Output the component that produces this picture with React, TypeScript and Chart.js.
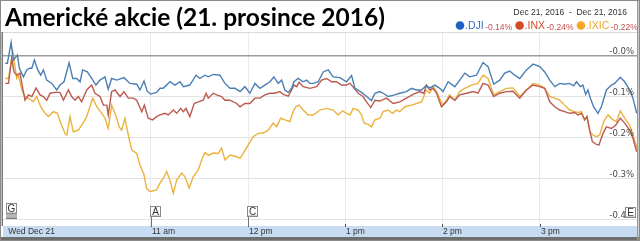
import React, { useEffect, useRef } from 'react';
import { Chart, registerables } from 'chart.js';

Chart.register(...registerables);

// minutes after 9:30 (open) and % change
const djiTime = [0,1.3,3.6,5,7.5,8.7,11.2,13.3,14.9,16.4,18,20.1,21.9,23.5,25.6,28.7,31.8,33.8,36.3,39.4,41.7,44.1,46.2,47.8,50.7,53.4,56,58.5,61.6,63.6,65.7,68.8,73.3,77,81.2,83.2,85.7,87.7,89.8,93.5,95.6,97.6,101.7,104.8,107.9,110,114,117.8,120.2,123.3,125.4,128.5,132.6,135.7,138.8,141.9,145,148,151.1,154.2,157.3,160.4,163.5,165.9,168.6,170.7,172.7,174.8,176.9,178.3,180.9,184,186.1,188.2,190.2,193.3,196.4,199.5,202.5,206.7,210.8,213.9,216,220.1,223.2,226.2,228.3,231.4,233.4,236.5,240.6,243.7,247.8,250.9,254,257.1,259.8,262.2,265.3,268.4,270.4,273.5,277.7,280.7,283.8,286.9,291,295.1,298.2,301.7,305.4,308.5,311.6,314.7,317.8,321.9,326,330.1,333.2,336.3,339.4,342.5,345.5,348.6,351.1,352.8,355.2,356.8,358.5,359.9,361.4,363.4,366.1,368.2,371.3,374.4,376.4,379.9,382.6,385.7,387.7,390];
const djiValue = [-0.019,-0.019,0.032,-0.011,0.001,-0.031,-0.052,-0.035,-0.031,-0.031,-0.011,-0.035,-0.048,-0.035,-0.06,-0.068,-0.084,-0.072,-0.064,-0.018,-0.056,-0.056,-0.064,-0.035,-0.04,-0.056,-0.072,-0.06,-0.052,-0.082,-0.056,-0.06,-0.054,-0.068,-0.07,-0.084,-0.062,-0.087,-0.094,-0.09,-0.08,-0.08,-0.064,-0.072,-0.064,-0.076,-0.072,-0.048,-0.056,-0.048,-0.052,-0.046,-0.048,-0.068,-0.08,-0.08,-0.088,-0.076,-0.092,-0.068,-0.08,-0.072,-0.064,-0.052,-0.068,-0.06,-0.084,-0.09,-0.08,-0.064,-0.056,-0.064,-0.06,-0.068,-0.068,-0.064,-0.04,-0.035,-0.052,-0.054,-0.064,-0.049,-0.08,-0.09,-0.1,-0.11,-0.092,-0.088,-0.092,-0.1,-0.096,-0.092,-0.088,-0.08,-0.084,-0.084,-0.074,-0.079,-0.072,-0.08,-0.088,-0.064,-0.076,-0.06,-0.043,-0.052,-0.048,-0.017,-0.027,-0.07,-0.06,-0.043,-0.038,-0.048,-0.056,-0.035,-0.021,-0.027,-0.04,-0.06,-0.076,-0.068,-0.07,-0.068,-0.074,-0.064,-0.076,-0.072,-0.095,-0.084,-0.104,-0.125,-0.141,-0.125,-0.084,-0.072,-0.068,-0.053,-0.064,-0.084,-0.104,-0.141];

const inxTime = [0,2,4,5.4,7.1,9.1,10.8,12.2,14.3,16.4,19,21.5,23.5,25.6,27.7,30.7,33.8,35.9,39,41,43.1,45.1,47.2,50.3,53.4,55.4,58.5,60.6,62.7,63.6,65.7,67.8,70.9,73.3,76,79.1,81.2,84.3,85.9,88.3,91,93.5,95.6,98.6,100.7,103.8,105.9,108.3,110,111.6,114,116.7,119.2,122.3,124,125.4,128.5,130.6,133.6,135.7,138.8,142.9,145,148,151.1,154.2,157.3,160.4,163.5,166.5,169.6,171.7,174.8,176.9,178.3,180,181.5,184,188.2,192.3,195.4,198.5,201.5,204.6,207.7,210.8,212.9,215.3,218,221,223.1,225.8,228.3,231.4,235.5,239.6,243.7,247.8,251.9,256,258.5,260.2,262.2,264.3,266.4,269.4,272.5,274.5,277.7,280.7,284.9,289,292,295.1,298.2,301.7,305.4,309.6,313.6,317.8,321.9,326,330.1,333.2,336.3,339.4,342.5,345.5,348.6,351.7,353.8,355.9,357.9,359.3,361,362.6,365.1,366.7,369.2,371.3,374.4,377,379.9,382.6,385.7,387.7,390];
const inxValue = [-0.068,-0.068,-0.007,-0.04,-0.048,-0.043,-0.08,-0.109,-0.096,-0.1,-0.079,-0.096,-0.1,-0.109,-0.092,-0.09,-0.09,-0.109,-0.084,-0.1,-0.109,-0.1,-0.113,-0.084,-0.072,-0.092,-0.1,-0.121,-0.121,-0.145,-0.088,-0.084,-0.1,-0.088,-0.104,-0.104,-0.109,-0.137,-0.121,-0.153,-0.157,-0.149,-0.145,-0.141,-0.145,-0.133,-0.141,-0.129,-0.137,-0.129,-0.149,-0.117,-0.113,-0.109,-0.092,-0.104,-0.092,-0.096,-0.1,-0.109,-0.109,-0.117,-0.125,-0.117,-0.117,-0.104,-0.104,-0.096,-0.092,-0.092,-0.088,-0.095,-0.099,-0.084,-0.072,-0.076,-0.065,-0.076,-0.08,-0.076,-0.06,-0.056,-0.064,-0.064,-0.072,-0.072,-0.068,-0.079,-0.092,-0.1,-0.113,-0.127,-0.109,-0.111,-0.104,-0.117,-0.113,-0.104,-0.095,-0.088,-0.092,-0.072,-0.084,-0.08,-0.092,-0.125,-0.113,-0.1,-0.109,-0.096,-0.092,-0.088,-0.092,-0.068,-0.072,-0.1,-0.092,-0.088,-0.087,-0.104,-0.084,-0.072,-0.076,-0.08,-0.113,-0.125,-0.133,-0.137,-0.141,-0.139,-0.145,-0.141,-0.157,-0.149,-0.182,-0.21,-0.217,-0.218,-0.19,-0.174,-0.178,-0.17,-0.153,-0.165,-0.182,-0.202,-0.235];

const ixicTime = [0,2,4.6,7.1,8.1,10.2,12.2,14.3,17.3,19.4,21.9,24.6,26.6,29.7,32.2,34.3,36.9,38,40,42,45.1,47.2,49.9,52.3,54,56.5,59.6,61.6,63.6,65.7,67.8,70.4,71.9,73.9,76,78.1,81.2,83.2,85.7,87.3,89.4,91.4,93.5,95.6,97.6,99.7,101.7,103.8,105.9,109,111,113.6,116.1,119.2,121.3,123.3,125.4,128.5,131.5,133.6,135.7,138.8,142.9,145,147,150.1,153.1,156.2,159.3,162.4,165.5,167.6,170.1,172.7,175.8,177.8,179.5,181.5,184,187.1,190.2,194.3,198.5,202.5,205.6,208.3,210.8,212.9,214.9,218,220.1,221.7,224.1,226.2,228.3,231.4,233.4,236.5,239.2,241.7,243.7,246.8,250.9,254,257.1,258.5,259.8,262.2,264.3,266.4,270.1,272.5,274.5,277.7,280.7,283.8,288,292,295.1,298.2,301.7,305.4,309.6,313.6,317.8,321.9,326,330.1,333.2,336.3,339.4,342.5,345.5,348.6,351.7,353.8,355.9,357.9,359.3,361,363,365.1,367.2,369.6,372.3,375.4,377.5,379.9,382.6,385.7,387.7,390];
const ixicValue = [-0.056,-0.056,0.01,-0.056,-0.048,-0.084,-0.1,-0.104,-0.113,-0.1,-0.125,-0.141,-0.149,-0.137,-0.141,-0.165,-0.19,-0.194,-0.149,-0.186,-0.182,-0.17,-0.153,-0.125,-0.104,-0.125,-0.141,-0.153,-0.178,-0.121,-0.141,-0.174,-0.182,-0.153,-0.194,-0.23,-0.239,-0.267,-0.291,-0.324,-0.332,-0.33,-0.328,-0.311,-0.3,-0.283,-0.304,-0.336,-0.304,-0.287,-0.296,-0.324,-0.296,-0.279,-0.255,-0.237,-0.243,-0.238,-0.239,-0.226,-0.255,-0.243,-0.247,-0.251,-0.239,-0.218,-0.198,-0.19,-0.189,-0.182,-0.165,-0.174,-0.153,-0.157,-0.161,-0.137,-0.125,-0.121,-0.133,-0.145,-0.145,-0.133,-0.129,-0.133,-0.145,-0.135,-0.141,-0.145,-0.129,-0.133,-0.145,-0.165,-0.168,-0.174,-0.157,-0.153,-0.137,-0.133,-0.141,-0.133,-0.137,-0.125,-0.121,-0.117,-0.113,-0.1,-0.084,-0.092,-0.076,-0.088,-0.121,-0.109,-0.096,-0.109,-0.088,-0.08,-0.072,-0.068,-0.048,-0.056,-0.096,-0.088,-0.08,-0.079,-0.1,-0.084,-0.068,-0.072,-0.08,-0.1,-0.104,-0.109,-0.121,-0.133,-0.137,-0.139,-0.137,-0.157,-0.149,-0.186,-0.194,-0.198,-0.194,-0.161,-0.145,-0.157,-0.161,-0.135,-0.153,-0.17,-0.194,-0.225];

const seriesNames = ['.DJI', '.INX', '.IXIC'];
const seriesChanges = ['-0.14%', '-0.24%', '-0.22%'];
const hourTicks = [90, 150, 210, 270, 330];
const hourLabels = ['11 am', '12 pm', '1 pm', '2 pm', '3 pm'];
const startLabel = 'Wed Dec 21';
const yTicks = [0, -0.1, -0.2, -0.3, -0.4];
const yTickLabels = ['-0.0%', '-0.1%', '-0.2%', '-0.3%', '-0.4%'];
const flagLabels = ['G', 'A', 'C', 'E'];
const flagTimes = [0, 90, 150, 390];
const titleText = 'Americké akcie (21. prosince 2016)';
const rangeText = 'Dec 21, 2016  -  Dec 21, 2016';

const lineColors = ['#4a7fb3', '#bd5a4f', '#eab23f'];
const dotColors = ['#1f62c4', '#d44a26', '#f4a825'];
const nameColors = ['#2e6fc2', '#cf4a2a', '#eea62a'];

const decorPlugin = {
  id: 'decor',
  beforeDraw(chart: any) {
    const { ctx, width, height } = chart;
    ctx.save();
    ctx.fillStyle = '#ffffff';
    ctx.fillRect(0, 0, width, height);
    ctx.restore();
  },
  afterDatasetsDraw(chart: any) {
    const { ctx, chartArea: a, scales } = chart;
    const xs = scales.x;
    const ys = scales.y;
    ctx.save();
    // header separator
    ctx.fillStyle = '#d9d9d9';
    ctx.fillRect(0, a.top - 1, chart.width, 1);
    // bottom band
    ctx.fillStyle = '#c7dcf3';
    ctx.fillRect(a.left, a.bottom, a.right - a.left, 11);
    ctx.fillStyle = '#6e6e6e';
    ctx.fillRect(0, a.bottom + 11, chart.width, chart.height - a.bottom - 11);
    // left / right borders
    ctx.fillStyle = '#7a7a7a';
    ctx.fillRect(a.left - 1.5, a.top - 1, 1.5, a.bottom - a.top + 1);
    ctx.fillStyle = '#9a9a9a';
    ctx.fillRect(a.right, 0, 1.5, chart.height);
    // hour ticks + labels
    ctx.font = '8.5px "Liberation Sans", Arial, sans-serif';
    ctx.textBaseline = 'middle';
    ctx.textAlign = 'left';
    ctx.fillStyle = '#333';
    ctx.fillText(startLabel, xs.getPixelForValue(0) + 3, a.bottom + 5.5);
    hourTicks.forEach((t, i) => {
      const x = Math.round(xs.getPixelForValue(t));
      ctx.fillStyle = '#555';
      ctx.fillRect(x, a.bottom - 2, 1, 3);
      ctx.fillStyle = '#333';
      ctx.fillText(hourLabels[i], x + 1, a.bottom + 5.5);
    });
    // y labels
    ctx.font = '8.5px "DejaVu Sans", Verdana, sans-serif';
    ctx.textAlign = 'right';
    ctx.fillStyle = '#4a4a4a';
    yTicks.forEach((v, i) => {
      const y = ys.getPixelForValue(v);
      ctx.fillText(yTickLabels[i], a.right - 3, y - 3.5);
    });
    // flags
    ctx.font = '10px "Liberation Sans", Arial, sans-serif';
    ctx.textAlign = 'center';
    flagTimes.forEach((t, i) => {
      const x = Math.round(xs.getPixelForValue(t));
      const w = 11;
      const h = 11;
      let left = x - 1;
      let top = a.bottom - 20;
      if (i === 0) {
        left = x + 1;
        top = a.bottom - 23;
        ctx.fillStyle = '#b4b4b4';
        ctx.fillRect(left, top + h, w, 4);
        ctx.fillStyle = '#777';
        ctx.fillRect(left, top + h + 4, w, 1);
      } else if (i === flagTimes.length - 1) {
        left = x - w - 1;
        top = a.bottom - 19;
      } else {
        ctx.fillStyle = '#777';
        ctx.fillRect(x, top + h, 1, a.bottom - top - h);
      }
      ctx.fillStyle = '#ffffff';
      ctx.fillRect(left, top, w, h);
      ctx.strokeStyle = '#8a8a8a';
      ctx.lineWidth = 1;
      ctx.strokeRect(left + 0.5, top + 0.5, w - 1, h - 1);
      ctx.fillStyle = '#cfcfcf';
      ctx.fillRect(left + 1, top + h - 2, w - 2, 1);
      ctx.fillStyle = '#333';
      ctx.fillText(flagLabels[i], left + w / 2, top + h / 2 + 0.5);
    });
    ctx.restore();
  },
  afterDraw(chart: any) {
    const { ctx, width, height } = chart;
    ctx.save();
    // outer frame
    ctx.strokeStyle = '#8a8a8a';
    ctx.lineWidth = 1;
    ctx.strokeRect(0.5, 0.5, width - 1, height - 1);
    // title
    ctx.fillStyle = '#000';
    ctx.font = 'bold 24.5px Lato, "Open Sans", sans-serif';
    ctx.textAlign = 'left';
    ctx.textBaseline = 'alphabetic';
    ctx.fillText(titleText, 5, 25.5);
    // date range
    ctx.font = '8.5px "Liberation Sans", Arial, sans-serif';
    ctx.fillStyle = '#333';
    ctx.textAlign = 'right';
    ctx.textBaseline = 'middle';
    ctx.fillText(rangeText, 627, 12.5);
    // legend
    ctx.textAlign = 'left';
    let x = 456;
    seriesNames.forEach((name, i) => {
      ctx.fillStyle = dotColors[i];
      ctx.beginPath();
      ctx.arc(x + 4, 25.5, 4.3, 0, Math.PI * 2);
      ctx.fill();
      x += 9;
      ctx.font = '10.5px "Liberation Sans", Arial, sans-serif';
      ctx.fillStyle = nameColors[i];
      ctx.textBaseline = 'alphabetic';
      ctx.fillText(name, x, 29);
      x += ctx.measureText(name).width + 1.5;
      ctx.font = '8.5px "Liberation Sans", Arial, sans-serif';
      ctx.fillStyle = '#c0504d';
      ctx.fillText(seriesChanges[i], x, 30);
      x += ctx.measureText(seriesChanges[i]).width + 3.5;
    });
    ctx.restore();
  },
};

export default function App() {
  const ref = useRef<HTMLCanvasElement | null>(null);
  useEffect(() => {
    if (!ref.current) return;
    const mk = (t: number[], v: number[]) => t.map((x, i) => ({ x, y: v[i] }));
    const chart = new Chart(ref.current, {
      type: 'line',
      data: {
        datasets: [
          { label: seriesNames[0], data: mk(djiTime, djiValue), borderColor: lineColors[0], borderWidth: 1.4, pointRadius: 0, tension: 0, fill: false },
          { label: seriesNames[1], data: mk(inxTime, inxValue), borderColor: lineColors[1], borderWidth: 1.4, pointRadius: 0, tension: 0, fill: false },
          { label: seriesNames[2], data: mk(ixicTime, ixicValue), borderColor: lineColors[2], borderWidth: 1.4, pointRadius: 0, tension: 0, fill: false },
        ],
      },
      options: {
        animation: false,
        responsive: false,
        devicePixelRatio: 1,
        layout: { padding: { left: 3, right: 3, top: 33, bottom: 15 } },
        plugins: { legend: { display: false }, tooltip: { enabled: false }, title: { display: false } },
        scales: {
          x: {
            type: 'linear',
            min: -1.4,
            max: 390.2,
            border: { display: false },
            ticks: { display: false },
            grid: { color: '#ebebeb', drawTicks: false },
            afterBuildTicks: (s: any) => { s.ticks = hourTicks.map((v) => ({ value: v })); },
          },
          y: {
            type: 'linear',
            min: -0.416,
            max: 0.055,
            border: { display: false },
            ticks: { display: false },
            grid: {
              drawTicks: false,
              color: (c: any) => (c.tick && c.tick.value === 0 ? '#9c9c9c' : '#e3e3e3'),
              lineWidth: (c: any) => (c.tick && c.tick.value === 0 ? 1.5 : 1),
            },
            afterBuildTicks: (s: any) => { s.ticks = yTicks.map((v) => ({ value: v })); },
          },
        },
      },
      plugins: [decorPlugin],
    } as any);
    return () => chart.destroy();
  }, []);
  return (
    <div style={{ position: 'absolute', left: 0, top: 0, width: 640, height: 241 }}>
      <canvas ref={ref} width={640} height={241} style={{ display: 'block', width: 640, height: 241 }} />
    </div>
  );
}
